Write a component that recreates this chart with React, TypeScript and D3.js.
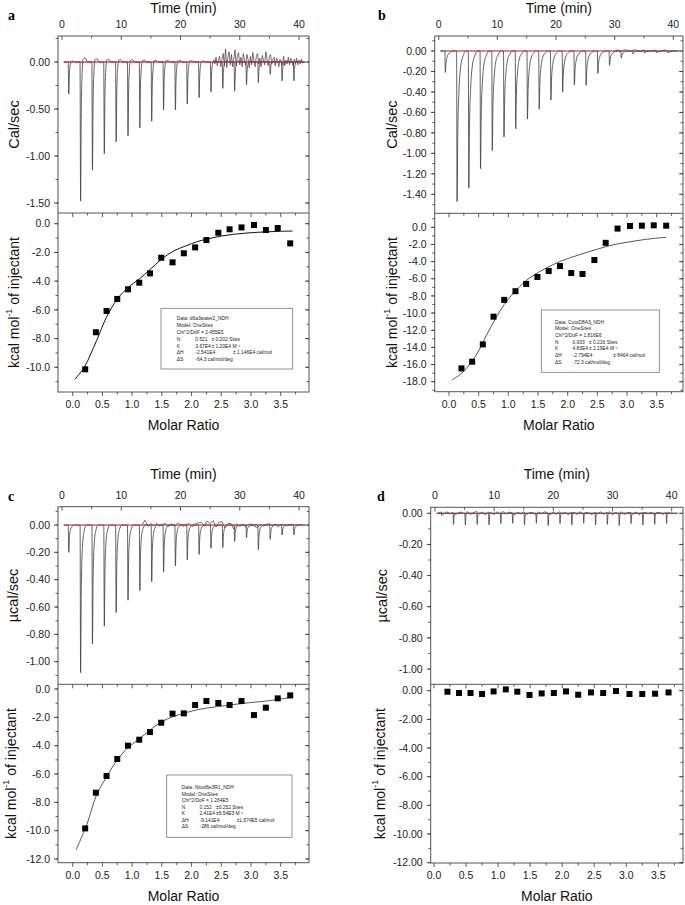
import React from 'react';
import * as d3 from 'd3';

// injection times (min), same protocol in all four runs
const injectionTimes = [1.1, 3.1, 5.1, 7.1, 9.1, 11.1, 13.1, 15.1, 17.1, 19.1, 21.1, 23.1, 25.1, 27.1, 29.1, 31.1, 33.1, 35.1, 37.1, 39.1];
// molar ratio of each integrated injection (first injection discarded)
const molarRatio = [0.21, 0.39, 0.57, 0.75, 0.93, 1.12, 1.3, 1.49, 1.68, 1.87, 2.06, 2.25, 2.45, 2.64, 2.84, 3.05, 3.25, 3.45, 3.66];

// raw peak minima (ucal/sec)
const peakA = [-0.34, -1.48, -1.15, -0.975, -0.85, -0.785, -0.7, -0.63, -0.51, -0.51, -0.445, -0.38, -0.32, -0.28, -0.31, -0.24, -0.22, -0.13, -0.2, -0.2];
const peakB = [-0.21, -1.47, -1.34, -1.15, -0.975, -0.84, -0.76, -0.665, -0.57, -0.48, -0.4, -0.33, -0.335, -0.22, -0.14, -0.07, -0.03, -0.02, -0.02, -0.02];
const peakC = [-0.2, -1.08, -0.87, -0.74, -0.64, -0.55, -0.48, -0.415, -0.345, -0.3, -0.255, -0.215, -0.17, -0.165, -0.12, -0.093, -0.18, -0.105, -0.073, -0.073];
const peakD = [-0.015, -0.071, -0.075, -0.071, -0.075, -0.066, -0.064, -0.075, -0.064, -0.079, -0.066, -0.075, -0.064, -0.075, -0.071, -0.079, -0.066, -0.075, -0.071, -0.066];

// baseline noise (start time, step, values)
const noiseA = { start: 25.6, step: 0.2, values: [0.03, -0.02, 0.05, -0.04, 0.02, 0.06, -0.05, 0.03, 0.09, -0.04, 0.14, -0.06, 0.05, 0.11, -0.03, 0.08, -0.05, 0.03, 0.13, -0.04, 0.07, 0.1, -0.03, 0.05, -0.05, 0.09, 0.02, -0.04, 0.08, 0.03, -0.06, 0.06, -0.03, 0.1, 0.01, -0.05, 0.06, 0.09, -0.02, 0.04, -0.05, 0.07, 0.02, -0.03, 0.11, 0.03, -0.04, 0.06, 0.08, -0.02, 0.03, 0.05, -0.04, 0.04, 0.02, -0.05, 0.03, 0.01, -0.03, 0.06, -0.04, 0.02, -0.02, 0.05, -0.03, 0.04, 0.01, -0.04, 0.03, -0.02, 0.04, -0.03, 0.02, -0.02, 0.03, -0.01, 0.0] };
const noiseB = { start: 30, step: 0.5, values: [0, 0.01, -0.005, 0.008, 0.012, -0.004, 0.006, 0.01, 0.003, -0.005, 0.01, 0.004, -0.003, 0.008, 0.006, -0.004, 0.005, 0.01, 0.002, -0.003, 0.004, 0.0] };
const noiseC = { start: 13.5, step: 0.5, values: [0.0, 0.035, -0.01, 0.01, -0.005, 0.012, -0.008, 0.006, 0.01, -0.01, 0.008, -0.006, 0.012, 0.004, -0.01, 0.006, 0.01, -0.012, 0.008, 0.015, 0.02, -0.01, 0.03, 0.01, 0.032, -0.015, 0.02, 0.025, -0.02, 0.01, 0.012, -0.03, 0.008, -0.01, 0.005, -0.015, 0.004, 0.008, -0.01, -0.02, 0.006, -0.008, 0.004, 0.01, -0.006, 0.008, -0.012, 0.004, 0.002, -0.006, 0.006, 0.003, -0.004, 0.005, 0.0] };
const noiseD = { start: 0.5, step: 0.5, values: [0.0, 0.008, -0.006, 0.01, -0.004, 0.006, -0.01, 0.004, 0.008, -0.006, 0.01, -0.008, 0.005, 0.012, -0.004, 0.008, -0.01, 0.006, 0.003, -0.008, 0.01, -0.004, 0.012, -0.006, 0.008, 0.004, -0.01, 0.006, -0.004, 0.01, -0.008, 0.004, 0.006, -0.01, 0.008, -0.004, 0.01, 0.002, -0.008, 0.006, -0.006, 0.01, -0.004, 0.008, -0.01, 0.004, 0.006, -0.008, 0.01, -0.004, 0.006, 0.002, -0.01, 0.008, -0.004, 0.01, -0.006, 0.004, 0.008, -0.01, 0.006, -0.004, 0.01, -0.008, 0.004, 0.006, -0.006, 0.008, -0.01, 0.004, 0.006, -0.004, 0.008, -0.006, 0.004, 0.006, -0.008, 0.004, 0.002, 0.0] };

// integrated heats (kcal/mol of injectant)
const heatA = [-10.14, -7.56, -6.08, -5.24, -4.57, -4.11, -3.46, -2.37, -2.69, -2.06, -1.65, -1.14, -0.63, -0.39, -0.26, -0.09, -0.44, -0.3, -1.37];
const heatB = [-16.45, -15.67, -13.65, -10.42, -8.46, -7.45, -6.6, -5.79, -5.1, -4.52, -5.33, -5.44, -3.82, -1.81, -0.15, 0.15, 0.19, 0.23, 0.19];
const heatC = [-9.84, -7.32, -6.14, -4.94, -4.0, -3.58, -3.04, -2.38, -1.74, -1.72, -1.13, -0.85, -0.99, -1.13, -0.85, -1.84, -1.32, -0.66, -0.45];
const heatD = [-0.07, -0.16, -0.16, -0.23, -0.05, 0.09, -0.07, -0.3, -0.19, -0.16, -0.05, -0.28, -0.12, -0.16, -0.02, -0.23, -0.23, -0.21, -0.12];

// one-site fit curves
const fitXA = [0.04, 0.2, 0.4, 0.57, 0.75, 0.93, 1.12, 1.3, 1.5, 1.7, 1.9, 2.1, 2.3, 2.5, 2.7, 2.9, 3.1, 3.3, 3.5, 3.7];
const fitA = [-10.83, -9.95, -8.15, -6.5, -5.25, -4.45, -3.85, -3.2, -2.45, -1.9, -1.55, -1.24, -1.03, -0.86, -0.74, -0.66, -0.6, -0.56, -0.53, -0.51];
const fitXB = [0.045, 0.2, 0.4, 0.5, 0.63, 0.78, 0.93, 1.19, 1.4, 1.64, 1.9, 2.2, 2.5, 2.76, 3.0, 3.3, 3.66];
const fitB = [-17.8, -17.1, -15.5, -14.4, -12.6, -10.7, -9.0, -6.9, -5.7, -4.75, -3.9, -3.2, -2.55, -2.05, -1.75, -1.42, -1.16];
const fitXC = [0.056, 0.235, 0.4, 0.57, 0.75, 0.94, 1.13, 1.3, 1.5, 1.69, 1.92, 2.14, 2.42, 2.7, 2.98, 3.26, 3.54, 3.7];
const fitC = [-11.36, -9.6, -7.5, -6.2, -5.0, -4.1, -3.5, -2.9, -2.3, -1.95, -1.65, -1.43, -1.25, -1.1, -0.96, -0.85, -0.68, -0.59];

// fit reports
const headerA = ['Data: d6a3water2_NDH', 'Model: OneSites', 'Chi^2/DoF = 2.455E5'];
const paramsA = [['N', '0.521', '± 0.202 Sites'], ['K', '3.67E4', '± 1.20E4 M⁻¹'], ['ΔH', '-2.541E4', '± 1.146E4 cal/mol'], ['ΔS', '-64.3 cal/mol/deg', '']];
const headerB = ['Data: CutoD8A3_NDH', 'Model: OneSites', 'Chi^2/DoF = 1.816E6'];
const paramsB = [['N', '0.933', '± 0.216 Sites'], ['K', '4.83E4', '± 2.19E4 M⁻¹'], ['ΔH', '-2.794E4', '± 8464 cal/mol'], ['ΔS', '-72.3 cal/mol/deg', '']];
const headerC = ['Data: Nitod6e3R1_NDH', 'Model: OneSites', 'Chi^2/DoF = 1.264E5'];
const paramsC = [['N', '0.152', '±0.252 Sites'], ['K', '2.41E4', '±6.54E3 M⁻¹'], ['ΔH', '-9.141E4', '±1.574E5 cal/mol'], ['ΔS', '-286 cal/mol/deg', '']];

const FONT = "'Liberation Sans', Arial, Helvetica, sans-serif";
const INK = '#333';

// peak glyph shapes: [minutes after injection, fraction of peak depth]
const SHAPE_A = [[-0.06, 0], [0.04, 1], [0.14, 0.4], [0.3, 0.08], [0.45, -0.02], [0.8, -0.03], [1.2, 0]];
const SHAPE_B = [[-0.05, 0], [0.03, 1], [0.15, 0.55], [0.35, 0.27], [0.6, 0.12], [1.0, 0.04], [1.6, 0]];
const SHAPE_C = [[-0.05, 0], [0.04, 1], [0.15, 0.45], [0.35, 0.15], [0.6, 0.05], [1.0, 0]];
const SHAPE_D = [[-0.05, 0], [0.03, 1], [0.12, 0.2], [0.3, 0]];

type Legend = { box: number[]; x: number; y: number; dy: number; val: number; pm: number; pmH: number; header: string[]; params: string[][] };

type PanelDef = {
  letter: string; letterX: number; letterY: number;
  left: number; right: number; top: number; mid: number; bottom: number;
  time: number[]; topY: number[]; topV: number; ratio: number[]; botY: number[]; botV: number;
  topStep: number; topMinor: number; botStep: number; botMinor: number; botDec: number;
  timeTitleY: number; topTitle: string; topTitleX: number; botTitleX: number;
  peaks: number[]; shape: number[][]; noise: { start: number; step: number; values: number[] };
  baseColor: string; heat: number[]; fitX?: number[]; fit?: number[]; fitColor?: string;
  legend?: Legend;
};

const panels: PanelDef[] = [
  {
    letter: 'a', letterX: 8, letterY: 20,
    left: 58, right: 309, top: 36, mid: 213, bottom: 392,
    time: [62, 299], topY: [62, 203], topV: -1.5, ratio: [72.7, 280.7], botY: [223.7, 367.3], botV: -10,
    topStep: 0.5, topMinor: 0.25, botStep: 2, botMinor: 1, botDec: 1,
    timeTitleY: 12.5, topTitle: 'Cal/sec', topTitleX: 14, botTitleX: 14,
    peaks: peakA, shape: SHAPE_A, noise: noiseA, baseColor: '#e3262b',
    heat: heatA, fitX: fitXA, fit: fitA, fitColor: '#111',
    legend: { box: [161, 308.3, 292.7, 369], x: 176.7, y: 320.3, dy: 6.8, val: 195.3, pm: 211.5, pmH: 233, header: headerA, params: paramsA },
  },
  {
    letter: 'b', letterX: 378, letterY: 20,
    left: 434.7, right: 683, top: 36, mid: 213.3, bottom: 391.7,
    time: [438.7, 673.3], topY: [51, 194.3], topV: -1.4, ratio: [449, 656.7], botY: [227.3, 381.7], botV: -18,
    topStep: 0.2, topMinor: 0.1, botStep: 2, botMinor: 1, botDec: 1,
    timeTitleY: 12.5, topTitle: 'Cal/sec', topTitleX: 392, botTitleX: 392,
    peaks: peakB, shape: SHAPE_B, noise: noiseB, baseColor: '#c8504a',
    heat: heatB, fitX: fitXB, fit: fitB, fitColor: '#555',
    legend: { box: [541.3, 310, 659.3, 372.3], x: 555, y: 323.5, dy: 6.7, val: 572.5, pm: 589, pmH: 613.3, header: headerB, params: paramsB },
  },
  {
    letter: 'c', letterX: 8, letterY: 501,
    left: 58, right: 309, top: 506.7, mid: 684.3, bottom: 862.7,
    time: [62, 299], topY: [525, 661.7], topV: -1, ratio: [72.7, 280.7], botY: [689, 859], botV: -12,
    topStep: 0.2, topMinor: 0.1, botStep: 2, botMinor: 1, botDec: 1,
    timeTitleY: 479, topTitle: 'µcal/sec', topTitleX: 13, botTitleX: 11,
    peaks: peakC, shape: SHAPE_C, noise: noiseC, baseColor: '#c8504a',
    heat: heatC, fitX: fitXC, fit: fitC, fitColor: '#555',
    legend: { box: [166.7, 775, 292, 837.3], x: 181.7, y: 789, dy: 6.5, val: 199.5, pm: 216, pmH: 236.7, header: headerC, params: paramsC },
  },
  {
    letter: 'd', letterX: 377, letterY: 501,
    left: 430.7, right: 683, top: 507.3, mid: 684.3, bottom: 863,
    time: [435, 671.7], topY: [513.3, 669], topV: -1, ratio: [434, 658.3], botY: [690.7, 862.7], botV: -12,
    topStep: 0.2, topMinor: 0.1, botStep: 2, botMinor: 1, botDec: 2,
    timeTitleY: 479, topTitle: 'µcal/sec', topTitleX: 382, botTitleX: 380,
    peaks: peakD, shape: SHAPE_D, noise: noiseD, baseColor: '#b05050',
    heat: heatD,
  },
];

// tick values of a linear scale between two pixel edges
function tickValues(scale: d3.ScaleLinear<number, number>, step: number, p0: number, p1: number) {
  const a = scale.invert(p0);
  const b = scale.invert(p1);
  const lo = Math.min(a, b);
  const hi = Math.max(a, b);
  const out: number[] = [];
  for (let k = Math.ceil(lo / step - 1e-6); k <= Math.floor(hi / step + 1e-6); k++) out.push(+(k * step).toFixed(6));
  return out;
}

const Panel = ({ p }: { p: PanelDef }) => {
  const tx = d3.scaleLinear().domain([0, 40]).range(p.time);
  const ty = d3.scaleLinear().domain([0, p.topV]).range(p.topY);
  const mx = d3.scaleLinear().domain([0, 3.5]).range(p.ratio);
  const my = d3.scaleLinear().domain([0, p.botV]).range(p.botY);

  const MAJ = 4;
  const MIN = 2.5;

  // thermogram: flat baseline with one glyph per injection
  const trace: [number, number][] = [[0.3, 0]];
  p.peaks.forEach((d, i) => {
    p.shape.forEach(([dt, f]) => trace.push([injectionTimes[i] + dt, d * f]));
  });
  trace.push([41, 0]);
  const traceLine = d3.line<[number, number]>().x(d => tx(d[0])).y(d => ty(d[1])).curve(d3.curveMonotoneX);
  const noisePts: [number, number][] = p.noise.values.map((v, i) => [p.noise.start + i * p.noise.step, v]);
  const noiseLine = d3.line<[number, number]>().x(d => tx(d[0])).y(d => ty(d[1]));

  const fitLine = d3.line<number>().x((_, i) => mx(p.fitX![i])).y(d => my(d)).curve(d3.curveCatmullRom);

  const timeMaj = tickValues(tx, 10, p.left, p.right);
  const timeMin = tickValues(tx, 5, p.left, p.right);
  const topMaj = tickValues(ty, p.topStep, p.top, p.mid);
  const topMin = tickValues(ty, p.topMinor, p.top, p.mid);
  const botMaj = tickValues(my, p.botStep, p.mid, p.bottom);
  const botMin = tickValues(my, p.botMinor, p.mid, p.bottom);
  const ratMaj = tickValues(mx, 0.5, p.left, p.right);
  const ratMin = tickValues(mx, 0.25, p.left, p.right);

  const cx = (p.left + p.right) / 2;
  const sideTicks = (vals: number[], s: d3.ScaleLinear<number, number>, len: number, key: string) =>
    vals.map(v => (
      <g key={key + v}>
        <line x1={p.left - len} x2={p.left} y1={s(v)} y2={s(v)} stroke={INK} strokeWidth={0.8} />
        <line x1={p.right - len} x2={p.right} y1={s(v)} y2={s(v)} stroke={INK} strokeWidth={0.8} />
      </g>
    ));

  return (
    <g fontFamily={FONT}>
      <text x={p.letterX} y={p.letterY} fontFamily="'Liberation Serif', 'Times New Roman', serif" fontWeight="bold" fontSize={14}>{p.letter}</text>

      {/* thermogram */}
      <line x1={tx(0.3)} x2={tx(41)} y1={ty(0)} y2={ty(0)} stroke={p.baseColor} strokeWidth={1} />
      <path d={traceLine(trace) ?? ''} fill="none" stroke="#3a3a3a" strokeWidth={0.8} />
      <path d={noiseLine(noisePts) ?? ''} fill="none" stroke="#3a3a3a" strokeWidth={0.7} />
      <line x1={tx(0.3)} x2={tx(41)} y1={ty(0)} y2={ty(0)} stroke={p.baseColor} strokeWidth={0.8} opacity={0.8} />

      {/* binding isotherm */}
      {p.fit && <path d={fitLine(p.fit) ?? ''} fill="none" stroke={p.fitColor} strokeWidth={1} />}
      {p.heat.map((h, i) => (
        <rect key={'h' + i} x={mx(molarRatio[i]) - 3} y={my(h) - 3} width={6} height={6} fill="#000" />
      ))}

      {p.legend && (
        <g fontSize={4.9} fill="#222">
          <rect x={p.legend.box[0]} y={p.legend.box[1]} width={p.legend.box[2] - p.legend.box[0]} height={p.legend.box[3] - p.legend.box[1]} fill="#fff" stroke="#777" strokeWidth={0.8} />
          {p.legend.header.map((t, i) => (
            <text key={'lh' + i} x={p.legend!.x} y={p.legend!.y + i * p.legend!.dy}>{t}</text>
          ))}
          {p.legend.params.map((r, i) => {
            const y = p.legend!.y + (i + 3) * p.legend!.dy;
            return (
              <g key={'lp' + i}>
                <text x={p.legend!.x} y={y}>{r[0]}</text>
                <text x={p.legend!.val} y={y}>{r[1]}</text>
                <text x={r[0] === 'ΔH' ? p.legend!.pmH : p.legend!.pm} y={y}>{r[2]}</text>
              </g>
            );
          })}
        </g>
      )}

      {/* frames */}
      <rect x={p.left} y={p.top} width={p.right - p.left} height={p.bottom - p.top} fill="none" stroke="#555" strokeWidth={1} />
      <line x1={p.left} x2={p.right} y1={p.mid} y2={p.mid} stroke="#555" strokeWidth={1} />

      {/* time axis (top) */}
      {timeMin.map(v => (
        <line key={'tm' + v} x1={tx(v)} x2={tx(v)} y1={p.top} y2={p.top + (v % 10 === 0 ? MAJ : MIN)} stroke={INK} strokeWidth={0.8} />
      ))}
      {timeMaj.map(v => (
        <text key={'tl' + v} x={tx(v)} y={p.top - 8} fontSize={10.5} textAnchor="middle" fill="#222">{v}</text>
      ))}
      <text x={cx} y={p.timeTitleY} fontSize={14} textAnchor="middle" fill="#111">Time (min)</text>

      {/* top y axis */}
      {sideTicks(topMin, ty, MIN, 'ym')}
      {sideTicks(topMaj, ty, MAJ, 'yM')}
      {topMaj.map(v => (
        <text key={'yl' + v} x={p.left - 8} y={ty(v)} dy="0.35em" fontSize={10.5} textAnchor="end" fill="#222">{v.toFixed(2)}</text>
      ))}
      <text transform={`translate(${p.topTitleX},${(p.top + p.mid) / 2}) rotate(-90)`} fontSize={14.5} textAnchor="middle" dominantBaseline="central" fill="#111">{p.topTitle}</text>

      {/* bottom y axis */}
      {sideTicks(botMin, my, MIN, 'bm')}
      {sideTicks(botMaj, my, MAJ, 'bM')}
      {botMaj.map(v => (
        <text key={'bl' + v} x={p.left - 8} y={my(v)} dy="0.35em" fontSize={10.5} textAnchor="end" fill="#222">{v.toFixed(p.botDec)}</text>
      ))}
      <text transform={`translate(${p.botTitleX},${(p.mid + p.bottom) / 2}) rotate(-90)`} fontSize={14} textAnchor="middle" dominantBaseline="central" fill="#111">
        kcal mol<tspan fontSize={9} dy={-5}>-1</tspan><tspan dy={5}> of injectant</tspan>
      </text>

      {/* molar ratio axis */}
      {ratMin.map(v => {
        const len = Math.abs(v * 2 - Math.round(v * 2)) < 1e-6 ? MAJ : MIN;
        return (
          <g key={'rm' + v}>
            <line x1={mx(v)} x2={mx(v)} y1={p.bottom} y2={p.bottom + len} stroke={INK} strokeWidth={0.8} />
            <line x1={mx(v)} x2={mx(v)} y1={p.mid} y2={p.mid + len} stroke={INK} strokeWidth={0.8} />
          </g>
        );
      })}
      {ratMaj.map(v => (
        <text key={'rl' + v} x={mx(v)} y={p.bottom + 16} fontSize={10.5} textAnchor="middle" fill="#222">{v.toFixed(1)}</text>
      ))}
      <text x={cx} y={p.bottom + 38} fontSize={14} textAnchor="middle" fill="#111">Molar Ratio</text>
    </g>
  );
};

export default function App() {
  return (
    <div style={{ position: 'absolute', left: 0, top: 0 }}>
      <svg width={685} height={905} style={{ display: 'block', background: '#fff' }}>
        {panels.map(p => <Panel key={p.letter} p={p} />)}
      </svg>
    </div>
  );
}
